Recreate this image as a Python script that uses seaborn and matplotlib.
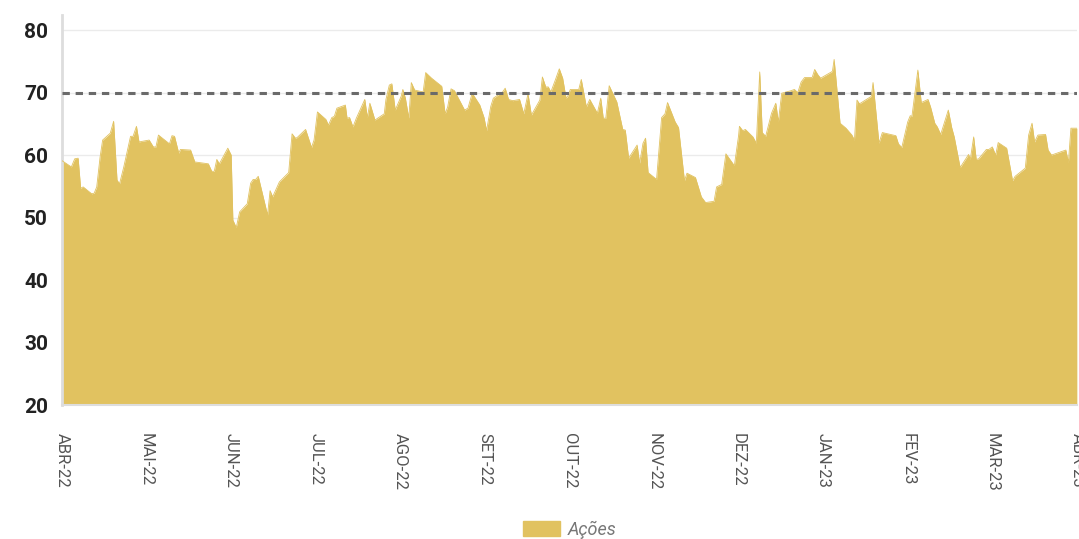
import seaborn as sns
import matplotlib.pyplot as plt
from matplotlib.patches import Patch
import pandas as pd

# tempo em meses desde abr-22 e percentual em ações
t_meses = [0.00, 0.11, 0.15, 0.19, 0.22, 0.25, 0.35, 0.38, 0.41, 0.45, 0.48, 0.57, 0.61, 0.65, 0.68,
           0.73, 0.81, 0.84, 0.88, 0.91, 1.03, 1.08, 1.11, 1.14, 1.27, 1.30, 1.33, 1.38, 1.40, 1.52,
           1.57, 1.73, 1.77, 1.80, 1.83, 1.86, 1.96, 2.00, 2.02, 2.06, 2.10, 2.19, 2.23, 2.26, 2.29,
           2.32, 2.43, 2.46, 2.49, 2.57, 2.68, 2.72, 2.76, 2.78, 2.88, 2.95, 2.98, 3.02, 3.12, 3.15,
           3.19, 3.22, 3.25, 3.35, 3.37, 3.40, 3.44, 3.48, 3.58, 3.61, 3.64, 3.70, 3.81, 3.83, 3.87,
           3.90, 3.94, 4.01, 4.03, 4.06, 4.10, 4.13, 4.17, 4.27, 4.30, 4.37, 4.49, 4.53, 4.56, 4.60,
           4.64, 4.76, 4.80, 4.85, 4.94, 4.99, 5.02, 5.07, 5.10, 5.21, 5.24, 5.28, 5.33, 5.41, 5.46,
           5.51, 5.55, 5.65, 5.68, 5.72, 5.75, 5.78, 5.83, 5.88, 5.92, 5.96, 5.98, 6.01, 6.11, 6.14,
           6.20, 6.24, 6.33, 6.37, 6.40, 6.43, 6.47, 6.56, 6.63, 6.66, 6.70, 6.80, 6.83, 6.87, 6.90,
           6.93, 7.03, 7.09, 7.13, 7.16, 7.25, 7.29, 7.36, 7.39, 7.49, 7.56, 7.61, 7.71, 7.74, 7.80,
           7.85, 7.95, 8.00, 8.01, 8.05, 8.08, 8.17, 8.21, 8.25, 8.28, 8.32, 8.39, 8.44, 8.47, 8.51,
           8.62, 8.66, 8.70, 8.74, 8.78, 8.87, 8.90, 8.94, 8.97, 9.11, 9.13, 9.20, 9.27, 9.34, 9.37,
           9.40, 9.43, 9.57, 9.59, 9.66, 9.70, 9.86, 9.89, 9.93, 10.00, 10.03, 10.05, 10.12, 10.16,
           10.24, 10.27, 10.32, 10.35, 10.39, 10.48, 10.52, 10.55, 10.62, 10.72, 10.74, 10.78, 10.81,
           10.84, 10.93, 10.96, 11.00, 11.04, 11.07, 11.17, 11.24, 11.27, 11.39, 11.43, 11.47, 11.50,
           11.54, 11.63, 11.66, 11.70, 11.87, 11.90, 11.93, 12.00]
acoes = [59.1, 58.1, 59.4, 59.5, 54.7, 54.9, 53.8, 53.9, 54.9, 59.7, 62.4, 63.5, 65.4, 56.0, 55.4,
         58.1, 63.0, 63.0, 64.6, 62.1, 62.4, 61.3, 61.3, 63.2, 61.8, 63.1, 63.0, 60.3, 60.9, 60.8,
         58.9, 58.6, 57.4, 57.4, 59.3, 58.6, 61.1, 60.0, 49.6, 48.4, 50.9, 52.2, 55.5, 56.1, 56.1,
         56.6, 50.4, 54.3, 53.3, 55.7, 57.2, 63.4, 62.7, 62.8, 64.1, 61.2, 62.4, 66.9, 65.7, 64.8,
         66.0, 66.2, 67.5, 68.0, 65.9, 66.0, 64.5, 65.9, 68.9, 66.0, 68.3, 65.6, 66.6, 68.9, 71.2,
         71.4, 67.2, 69.4, 70.5, 69.1, 65.9, 71.6, 70.4, 70.1, 73.2, 72.3, 71.0, 66.6, 67.7, 70.6,
         70.3, 67.2, 67.5, 69.9, 68.0, 66.0, 63.9, 67.8, 69.1, 70.1, 70.7, 68.9, 68.7, 68.9, 66.6,
         69.8, 66.4, 68.8, 72.5, 70.9, 70.9, 70.1, 71.9, 73.8, 72.3, 69.1, 69.4, 70.5, 70.5, 72.1,
         67.7, 68.9, 66.7, 69.1, 65.9, 65.9, 71.1, 68.5, 64.1, 64.0, 59.5, 61.6, 58.7, 61.9, 62.7,
         57.2, 56.1, 66.0, 66.6, 68.4, 65.3, 64.4, 55.9, 57.1, 56.4, 53.3, 52.4, 52.6, 54.9, 55.3,
         60.2, 58.3, 63.1, 64.6, 63.9, 64.1, 62.9, 61.9, 73.3, 63.6, 63.0, 66.7, 68.3, 65.3, 69.9,
         70.3, 70.5, 70.0, 71.7, 72.4, 72.4, 73.7, 72.8, 72.3, 73.4, 75.3, 65.1, 64.3, 63.2, 62.4,
         68.8, 68.2, 69.4, 71.6, 61.9, 63.6, 63.1, 61.8, 61.2, 65.3, 66.3, 66.2, 73.6, 68.4,
         68.9, 67.7, 65.1, 64.5, 63.3, 67.2, 64.4, 62.9, 58.0, 60.1, 59.3, 62.9, 59.3,
         59.4, 60.9, 60.9, 61.3, 60.0, 62.0, 61.1, 55.9, 56.6, 57.9, 63.2, 65.1, 62.1,
         63.2, 63.3, 60.8, 60.0, 60.8, 58.8, 64.3, 64.3]
meses = ["ABR-22", "MAI-22", "JUN-22", "JUL-22", "AGO-22", "SET-22", "OUT-22",
         "NOV-22", "DEZ-22", "JAN-23", "FEV-23", "MAR-23", "ABR-23"]
referencia = 70

df = pd.DataFrame({"t": t_meses, "acoes": acoes})
cor = "#E1C260"
fonte = ["Roboto", "DejaVu Sans"]

sns.set_theme(style="white")
plt.rcParams["font.family"] = fonte
fig = plt.figure(figsize=(10.79, 5.39), dpi=100)
ax = fig.add_axes([0.0575, 0.2486, 0.9405, 0.7234])

ax.fill_between(df["t"], df["acoes"], 20, color=cor, linewidth=0, zorder=2)
sns.lineplot(data=df, x="t", y="acoes", ax=ax, color=cor, linewidth=0.6, zorder=3)
ax.axhline(referencia, color="#6a6a6a", linewidth=2.2, dashes=(2.4, 1.9), zorder=4)

ax.set_xlim(0, 12)
ax.set_ylim(20, 82.4)
ax.set_yticks(range(20, 81, 10))
ax.set_xticks(range(13))
ax.set_xticklabels(meses, rotation=270, fontsize=12, color="#555555")
for lb in ax.get_yticklabels():
    lb.set_fontsize(15)
    lb.set_fontweight("bold")
    lb.set_color("#222222")
ax.set_xlabel("")
ax.set_ylabel("")

ax.grid(axis="y", color="#ebebeb", linewidth=1, zorder=0)
ax.grid(axis="x", visible=False)
for s in ["top", "right"]:
    ax.spines[s].set_visible(False)
ax.spines["left"].set_color("#dddddd")
ax.spines["left"].set_linewidth(2)
ax.spines["bottom"].set_color("#dddddd")
ax.spines["bottom"].set_linewidth(1.5)
ax.tick_params(axis="x", length=5, color="#dddddd", width=1.5, pad=15)
ax.tick_params(axis="y", length=6, color="#dddddd", width=1.5, pad=4)

leg = fig.legend(handles=[Patch(color=cor, label="Ações")], loc="lower center",
                 bbox_to_anchor=(0.528, -0.03), frameon=False, handlelength=2.05,
                 handleheight=0.95, handletextpad=0.4,
                 prop={"style": "italic", "size": 13})
for t in leg.get_texts():
    t.set_color("#777777")

fig.savefig("out.png", dpi=100)
